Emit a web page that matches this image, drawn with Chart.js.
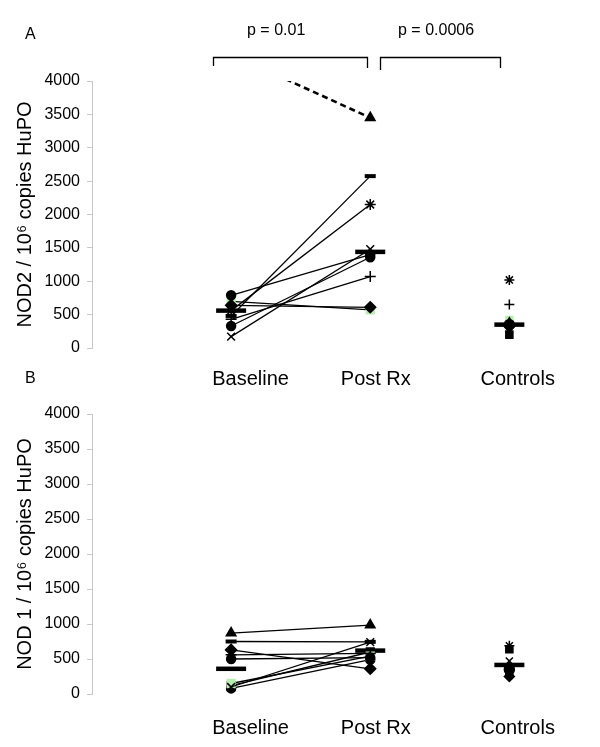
<!DOCTYPE html>
<html>
<head>
<meta charset="utf-8">
<script src="https://cdn.jsdelivr.net/npm/chart.js@4.4.1/dist/chart.umd.min.js"></script>
<style>
  body { margin: 0; background: #fff; font-family: "Liberation Sans", Arial, sans-serif; }
  #wrap { position: relative; width: 600px; height: 747px; }
  canvas { position: absolute; left: 0; }
  #cA { top: 0; }
  #cB { top: 390px; }
  .lbl { position: absolute; font-size: 16px; line-height: 16px; color: #000; white-space: nowrap; }
  svg { position: absolute; left: 0; top: 0; }
</style>
</head>
<body>
<div id="wrap">
  <canvas id="cA" width="600" height="390" style="width:600px;height:390px"></canvas>
  <canvas id="cB" width="600" height="357" style="width:600px;height:357px"></canvas>
  <svg width="600" height="90">
    <path d="M213.5 66 V57.5 H367.5 V68" stroke="#000" stroke-width="1.3" fill="none"/>
    <path d="M380.5 70 V57.5 H500.5 V68" stroke="#000" stroke-width="1.3" fill="none"/>
  </svg>
  <div class="lbl" style="left:25px;top:26px">A</div>
  <div class="lbl" style="left:25px;top:370px">B</div>
  <div class="lbl" style="left:247px;top:22px">p = 0.01</div>
  <div class="lbl" style="left:398px;top:22px">p = 0.0006</div>
</div>
<script>
// groups on the x axis: 1 = Baseline, 2 = Post Rx, 3 = Controls
const groupLabels = ['Baseline', 'Post Rx', 'Controls'];
const labelAt = [1.14, 2.04, 3.06];

// ── Panel A: NOD2 ─────────────────────────────────────────
const nod2Baseline = [4400, 480, 560, 170, 790, 330, 430, 640, 700];
const nod2Post     = [3450, 2575, 2150, 1480, 1400, 1360, 1070, 610, 570];
const nod2Markers  = ['triangle', 'line', 'star', 'crossRot', 'circle', 'circle', 'cross', 'rectRot', 'rect'];
const nod2Dashed   = 0;
const nod2Controls = [1020, 650, 420, 380, 350, 320, 280, 200];
const nod2CtrlMarkers = ['star', 'cross', 'rect', 'triangle', 'circle', 'rectRot', 'crossRot', 'rect'];
const nod2Means    = [560, 1440, 350];

// ── Panel B: NOD1 ─────────────────────────────────────────
const nod1Baseline = [870, 750, 100, 630, 560, 500, 150, 120, 80];
const nod1Post     = [985, 745, 740, 360, 580, 520, 540, 600, 490];
const nod1Markers  = ['triangle', 'line', 'crossRot', 'rectRot', 'cross', 'circle', 'rect', 'rect', 'circle'];
const nod1Controls = [690, 640, 470, 400, 350, 300, 250];
const nod1CtrlMarkers = ['star', 'rect', 'crossRot', 'triangle', 'circle', 'rect', 'rectRot'];
const nod1Means    = [360, 620, 415];

const GREEN = '#b8efb0';
const FONT = '"Liberation Sans", Arial, sans-serif';

function markerColor(style, i, greenIdx) {
  return i === greenIdx ? GREEN : '#000';
}

function buildDatasets(base, post, markers, greenIdx, dashedIdx, ctrl, ctrlMarkers, ctrlGreen, means) {
  const sets = base.map((b, i) => ({
    data: [{ x: 1, y: b }, { x: 2, y: post[i] }],
    showLine: true,
    borderColor: '#000',
    borderWidth: i === dashedIdx ? 2.6 : 1.3,
    borderDash: i === dashedIdx ? [6, 4] : [],
    pointStyle: markers[i],
    pointRadius: markers[i] === 'circle' ? 4.5 : 5.5,
    pointBorderWidth: markers[i] === 'line' ? 4 : 1.5,
    pointBackgroundColor: markerColor(markers[i], i, greenIdx),
    pointBorderColor: markerColor(markers[i], i, greenIdx),
  }));
  sets.push({
    data: ctrl.map(v => ({ x: 3, y: v })),
    showLine: false,
    pointStyle: ctrlMarkers,
    pointRadius: 5,
    pointBorderWidth: 1.5,
    pointBackgroundColor: ctrl.map((v, i) => i === ctrlGreen ? GREEN : '#000'),
    pointBorderColor: ctrl.map((v, i) => i === ctrlGreen ? GREEN : '#000'),
  });
  sets.push({
    data: means.map((v, i) => ({ x: i + 1, y: v })),
    showLine: false,
    pointStyle: 'line',
    pointRadius: 15,
    pointBorderWidth: 4.5,
    pointBorderColor: '#000',
  });
  return sets;
}

function makePanel(id, datasets, yTitle, topPad, xAxisH, labelPad) {
  return new Chart(document.getElementById(id), {
    type: 'scatter',
    data: { datasets },
    options: {
      responsive: false,
      animation: false,
      layout: { padding: { top: topPad, right: 35, left: 0, bottom: 0 } },
      plugins: { legend: { display: false }, tooltip: { enabled: false } },
      scales: {
        x: {
          type: 'linear', min: 0, max: 3.4,
          grid: { display: false, drawTicks: false },
          border: { display: false },
          afterBuildTicks: s => { s.ticks = labelAt.map(v => ({ value: v })); },
          afterFit: s => { s.height = xAxisH; },
          ticks: {
            callback: (v, i) => groupLabels[i],
            font: { size: 20, family: FONT }, color: '#000',
            padding: labelPad, maxRotation: 0, autoSkip: false,
          },
        },
        y: {
          min: 0, max: 4000,
          afterFit: s => { s.width = 92; },
          ticks: { stepSize: 500, callback: v => String(v), font: { size: 16, family: FONT }, color: '#000', padding: 7 },
          grid: { display: true, drawOnChartArea: false, drawTicks: true, tickLength: 5, color: '#c8c8c8' },
          border: { display: true, color: '#c8c8c8' },
          title: { display: true, text: yTitle, font: { size: 20, family: FONT }, color: '#000', padding: { top: 13, bottom: 0 } },
        },
      },
    },
  });
}

makePanel('cA',
  buildDatasets(nod2Baseline, nod2Post, nod2Markers, 8, nod2Dashed, nod2Controls, nod2CtrlMarkers, 2, nod2Means),
  'NOD2 / 10⁶ copies HuPO', 81, 42, 19);

makePanel('cB',
  buildDatasets(nod1Baseline, nod1Post, nod1Markers, 6, -1, nod1Controls, nod1CtrlMarkers, -1, nod1Means),
  'NOD 1 / 10⁶ copies HuPO', 24, 53, 22);
</script>
</body>
</html>
